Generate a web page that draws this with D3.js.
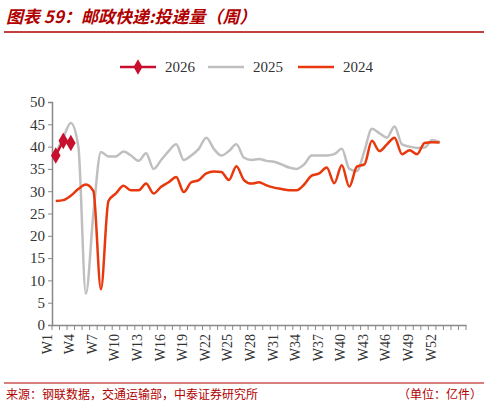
<!DOCTYPE html><html><head><meta charset="utf-8"><script src="https://cdn.jsdelivr.net/npm/d3@7"></script>
<style>body{margin:0;background:#fff}</style></head><body><svg id="c" width="488" height="407"></svg><script>
const weeks = d3.range(1,56).map(i=>"W"+i);
const tickLabels = d3.range(1,53,3).map(i=>"W"+i);
const s2026 = [38,41.3,40.8];
const s2025 = [38.5,42,45.3,40,7,25,38.8,37.8,37.8,38.9,38,36.8,38.5,35,37,39,40.5,37,38,39.5,42,39.5,38,39,40.5,37.5,37,37.2,36.8,36.6,36,35.3,35,36,38,38,38,38.3,39.5,35,34.5,39,44,43,42,44.5,40.5,40,39.7,39.8,41.5,41];
const s2024 = [27.8,28,29,30.5,31.5,30,8,27.8,29.5,31.2,30.2,30.2,31.7,29.5,31,32,33.2,29.8,32,32.5,34,34.4,34.3,32.5,35.6,32.5,31.7,32,31.3,30.8,30.5,30.2,30.2,31.5,33.5,34,35.3,31.8,35.8,31,35.5,36,41.3,39,40.5,42,38.3,39.2,38.3,40.8,41,40.9];
const yTicks = d3.range(0,51,5);
const svg=d3.select("#c");
const F="'Times New Roman','Liberation Serif',serif";
svg.append("text").attr("x",6).attr("y",23).attr("fill","#B00000").attr("font-size",17).attr("font-weight","bold").attr("font-style","italic").attr("font-family","'Noto Sans CJK SC',sans-serif").text("图表 59：邮政快递:投递量（周）");
svg.append("line").attr("x1",4).attr("x2",484).attr("y1",32).attr("y2",32).attr("stroke","#B00000").attr("stroke-width",1.5);
const x=d3.scaleBand().domain(weeks).range([52,466]);
const y=d3.scaleLinear().domain([0,50]).range([325,102]);
const cx=d=>x(d)+x.bandwidth()/2;
const ya=svg.append("g").attr("transform","translate(52,0)").call(d3.axisLeft(y).tickValues(yTicks).tickSize(4));
ya.selectAll("text").attr("font-family",F).attr("font-size",15).attr("fill","#333");
const xa=svg.append("g").attr("transform","translate(0,325)").call(d3.axisBottom(x).tickValues(tickLabels).tickSize(0));
xa.selectAll("text").attr("font-family",F).attr("font-size",14).attr("fill","#333").attr("transform","rotate(-90)").attr("text-anchor","end").attr("dx","-0.5em").attr("dy","-0.2em").attr("x",-2).attr("y",x.bandwidth()/2-5);
svg.selectAll(".domain").attr("stroke","#888").attr("stroke-width",1.5);
ya.selectAll("line").attr("stroke","#888");
svg.append("g").selectAll("line").data(weeks.concat(["end"])).join("line")
 .attr("x1",d=>d==="end"?466:x(d)).attr("x2",d=>d==="end"?466:x(d)).attr("y1",325).attr("y2",330).attr("stroke","#888");
const line=d3.line().x((d,i)=>cx(weeks[i])).y(d=>y(d)).curve(d3.curveMonotoneX);
svg.append("path").attr("d",line(s2025)).attr("fill","none").attr("stroke","#BFBFBF").attr("stroke-width",2.5);
svg.append("path").attr("d",line(s2024)).attr("fill","none").attr("stroke","#E8380D").attr("stroke-width",2.5);
svg.append("path").attr("d",d3.line().x((d,i)=>cx(weeks[i])).y(d=>y(d))(s2026)).attr("fill","none").attr("stroke","#C8102E").attr("stroke-width",2.5);
svg.selectAll(".m").data(s2026).join("path").attr("transform",(d,i)=>`translate(${cx(weeks[i])},${y(d)})`).attr("d",d3.symbol(d3.symbolDiamond,80)).attr("fill","#C8102E");
const leg=[["2026","#C8102E",120],["2025","#BFBFBF",208],["2024","#E8380D",298]];
leg.forEach(([t,c,lx],i)=>{
 svg.append("line").attr("x1",lx).attr("x2",lx+36).attr("y1",67).attr("y2",67).attr("stroke",c).attr("stroke-width",2.5);
 if(i===0) svg.append("path").attr("transform",`translate(${lx+18},67)`).attr("d",d3.symbol(d3.symbolDiamond,70)).attr("fill",c);
 svg.append("text").attr("x",lx+45).attr("y",72).attr("font-family",F).attr("font-size",15).attr("fill","#333").text(t);
});
svg.append("line").attr("x1",4).attr("x2",484).attr("y1",383).attr("y2",383).attr("stroke","#B00000").attr("stroke-width",1);
svg.append("text").attr("x",6).attr("y",399).attr("font-size",12).attr("fill","#B00000").attr("font-family","'Noto Sans CJK SC',sans-serif").text("来源：钢联数据，交通运输部，中泰证券研究所");
svg.append("text").attr("x",482).attr("y",399).attr("text-anchor","end").attr("font-size",12).attr("fill","#B00000").attr("font-family","'Noto Sans CJK SC',sans-serif").text("（单位：亿件）");
</script></body></html>
